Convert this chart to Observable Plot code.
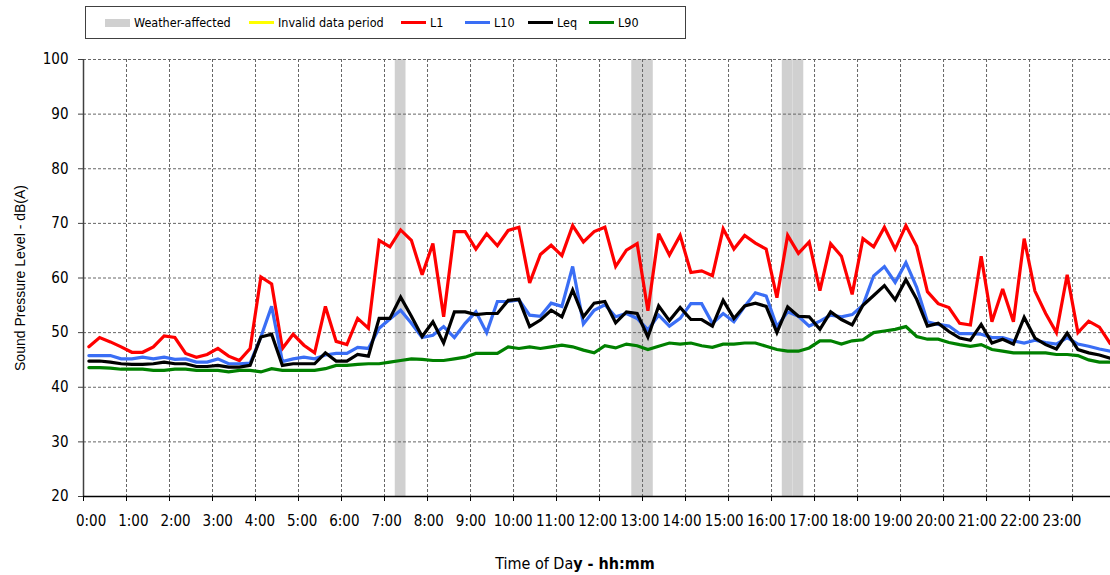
<!DOCTYPE html>
<html><head><meta charset="utf-8">
<script src="https://cdn.jsdelivr.net/npm/d3@7"></script>
<script src="https://cdn.jsdelivr.net/npm/@observablehq/plot@0.6"></script>
<style>
html,body{margin:0;padding:0;background:#fff;overflow:hidden;width:1110px;height:575px}
#wrap{position:relative;width:1110px;height:575px}
#chart{position:absolute;left:0;top:0}
.narrow{font-family:"Liberation Sans Narrow","Arial Narrow","DejaVu Sans Condensed",sans-serif}
#legend{position:absolute;left:85px;top:6px;width:601px;height:33px;border:1px solid #404040;box-sizing:border-box;font-size:12.5px;color:#000}
.li{position:absolute;top:0;height:31px;display:flex;align-items:center;white-space:nowrap}
.sw{display:inline-block;width:25px;margin-right:4px}
#ytitle{position:absolute;left:20px;top:278px;transform:translate(-50%,-50%) rotate(-90deg);white-space:nowrap;font-family:"Liberation Sans",Arial,sans-serif;font-size:14px;color:#000}
#xtitle{position:absolute;left:575px;top:563px;transform:translate(-50%,-50%);white-space:nowrap;font-size:16px;color:#000}
</style></head>
<body><div id="wrap"><div id="chart"></div><div id="legend" class="narrow"></div>
<div id="ytitle">Sound Pressure Level - dB(A)</div>
<div id="xtitle" class="narrow">Time of Da<b>y - hh:mm</b></div></div>
<script>
// ---- data (15-minute slots, 0:00 .. 23:45) ----
const hourLabels = ["0:00","1:00","2:00","3:00","4:00","5:00","6:00","7:00","8:00","9:00","10:00","11:00","12:00","13:00","14:00","15:00","16:00","17:00","18:00","19:00","20:00","21:00","22:00","23:00"];
const seriesNames = ["L1","L10","Leq","L90"];
const L1 = [47.4,49.1,48.3,47.4,46.4,46.4,47.4,49.4,49.1,46.2,45.5,46.0,47.1,45.7,44.9,47.1,
  60.2,58.9,47.1,49.7,47.7,46.3,54.8,48.4,47.8,52.6,50.8,66.9,65.7,68.8,66.9,60.6,
  66.3,52.9,68.5,68.5,65.3,68.1,65.9,68.7,69.3,59.1,64.3,66.0,64.1,69.6,66.6,68.5,
  69.3,62.1,65.1,66.3,54.0,68.1,64.2,67.8,61.0,61.3,60.4,69.0,65.3,67.8,66.4,65.3,
  56.4,67.8,64.5,66.6,57.7,66.3,64.0,57.0,67.2,65.7,69.3,65.3,69.6,65.8,57.5,55.3,
  54.6,51.7,51.4,64.0,52.0,58.0,52.0,67.2,57.6,53.5,50.0,60.6,50.0,52.1,51.0,48.0];
const L10 = [45.8,45.8,45.8,45.2,45.2,45.5,45.2,45.5,45.1,45.2,44.6,44.6,45.2,44.3,44.3,44.4,
  49.2,54.8,44.7,45.2,45.5,45.2,45.9,46.2,46.2,47.3,47.1,50.8,52.5,54.1,51.7,49.1,
  49.5,51.1,49.1,51.7,53.8,50.0,55.7,55.7,56.0,53.2,53.0,55.4,54.8,62.1,51.6,54.1,
  55.1,52.9,53.5,52.6,50.5,53.2,51.2,52.6,55.3,55.3,51.7,53.5,52.0,54.8,57.3,56.7,
  51.1,53.8,53.0,51.2,52.1,53.2,52.9,53.3,55.0,60.4,62.1,59.2,62.8,58.3,52.0,51.5,
  51.2,49.8,49.8,49.7,49.1,49.1,48.5,48.1,48.6,48.2,47.9,49.1,47.9,47.5,47.0,46.6];
const Leq = [44.8,44.8,44.6,44.3,44.2,44.2,44.3,44.6,44.3,44.3,43.8,43.8,44.0,43.7,43.7,44.0,
  49.2,49.7,44.0,44.3,44.3,44.3,46.3,44.8,44.8,46.0,45.7,52.6,52.6,56.5,53.0,49.3,
  52.0,48.1,53.8,53.8,53.3,53.5,53.5,55.9,56.1,51.1,52.3,54.1,52.9,57.8,52.9,55.4,
  55.7,51.8,53.8,53.5,49.2,54.9,52.2,54.6,52.4,52.4,51.2,55.9,52.6,54.9,55.4,54.8,
  50.0,54.7,53.0,52.9,50.6,53.8,52.4,51.4,55.0,56.8,58.6,56.0,59.7,56.1,51.2,51.7,
  50.2,49.0,48.6,51.5,48.1,48.8,47.9,52.8,49.0,47.8,47.0,49.9,46.9,46.3,45.9,45.3];
const L90 = [43.6,43.6,43.5,43.3,43.3,43.3,43.1,43.1,43.3,43.3,43.1,43.1,43.1,42.8,43.1,43.1,
  42.8,43.4,43.1,43.1,43.1,43.1,43.4,44.0,44.0,44.2,44.3,44.3,44.6,44.9,45.2,45.1,
  44.9,44.9,45.2,45.5,46.2,46.2,46.2,47.4,47.1,47.4,47.1,47.4,47.7,47.4,46.8,46.3,
  47.6,47.2,47.9,47.6,46.9,47.5,48.1,47.9,48.1,47.6,47.3,47.9,47.9,48.1,48.1,47.5,
  46.9,46.6,46.6,47.2,48.5,48.5,47.9,48.5,48.7,50.0,50.3,50.6,51.1,49.3,48.8,48.8,
  48.2,47.8,47.5,47.8,46.9,46.6,46.3,46.3,46.3,46.3,46.0,46.0,45.8,45.0,44.6,44.6];
const weatherSlots = [29,51,52,65,66];   // 15-min slots flagged weather-affected
const invalidSlots = [];                  // none in this period
const yTicks = [20,30,40,50,60,70,80,90,100];

// ---- styles ----
const colors = {L1:"#ff0000", L10:"#3a6ef5", Leq:"#000000", L90:"#008000"};
const narrow = '"Liberation Sans Narrow","Arial Narrow","DejaVu Sans Condensed",sans-serif';

const seriesVals = {L1, L10, Leq, L90};
const rows = seriesNames.flatMap(s => seriesVals[s].map((v,i)=>({s, i, v})));
const hours = hourLabels.map((_,h)=>h);

const plot = Plot.plot({
  width:1110, height:575,
  marginLeft:83, marginRight:0, marginTop:59, marginBottom:79,
  style:{background:"transparent", fontFamily:narrow},
  x:{domain:[-0.5,95.03]},
  y:{domain:[20,100]},
  marks:[
    Plot.rect(weatherSlots, {x1:d=>d-0.5, x2:d=>d+0.5, y1:20, y2:100, fill:"#d0d0d0"}),
    Plot.ruleY(yTicks.filter(d=>d>20), {stroke:"#666", strokeWidth:1, strokeDasharray:"3,2"}),
    Plot.ruleX(hours.slice(1).map(h=>4*h-0.5), {stroke:"#666", strokeWidth:1, strokeDasharray:"3,2"}),
    ...seriesNames.map(s => Plot.line(rows.filter(r=>r.s===s), {x:"i", y:"v", stroke:colors[s], strokeWidth:3.2, strokeLinejoin:"miter", strokeMiterlimit:3})),
    Plot.ruleX([-0.5], {stroke:"#404040", strokeWidth:1.5}),
    Plot.ruleY([20], {stroke:"#000", strokeWidth:1.5}),
    Plot.axisY({ticks:yTicks, tickSize:5, tickPadding:10, fontSize:15, tickFormat:d=>String(d), label:null, stroke:"#404040"}),
    Plot.axisX({ticks:hours.map(h=>4*h-0.5), tickSize:5, tickFormat:()=>"", label:null, stroke:"#000"}),
    Plot.text(hourLabels, {x:(d,h)=>0.21+3.926*h, y:20, dy:25, fontSize:15, fill:"#000"})
  ]
});
document.getElementById("chart").appendChild(plot);

// ---- legend ----
const legendItems = [
  {name:"Weather-affected", color:"#d0d0d0", thick:8},
  {name:"Invalid data period", color:"#ffff00", thick:3},
  ...seriesNames.map(s=>({name:s, color:colors[s], thick:3}))
];
const legendLeft = [19, 163, 315, 379, 442, 503];
const lg = document.getElementById("legend");
legendItems.forEach((it,k)=>{
  const el = document.createElement("div");
  el.className = "li";
  el.style.left = legendLeft[k]+"px";
  el.innerHTML = `<span class="sw" style="height:${it.thick}px;background:${it.color}"></span><span>${it.name}</span>`;
  lg.appendChild(el);
});
</script></body></html>
